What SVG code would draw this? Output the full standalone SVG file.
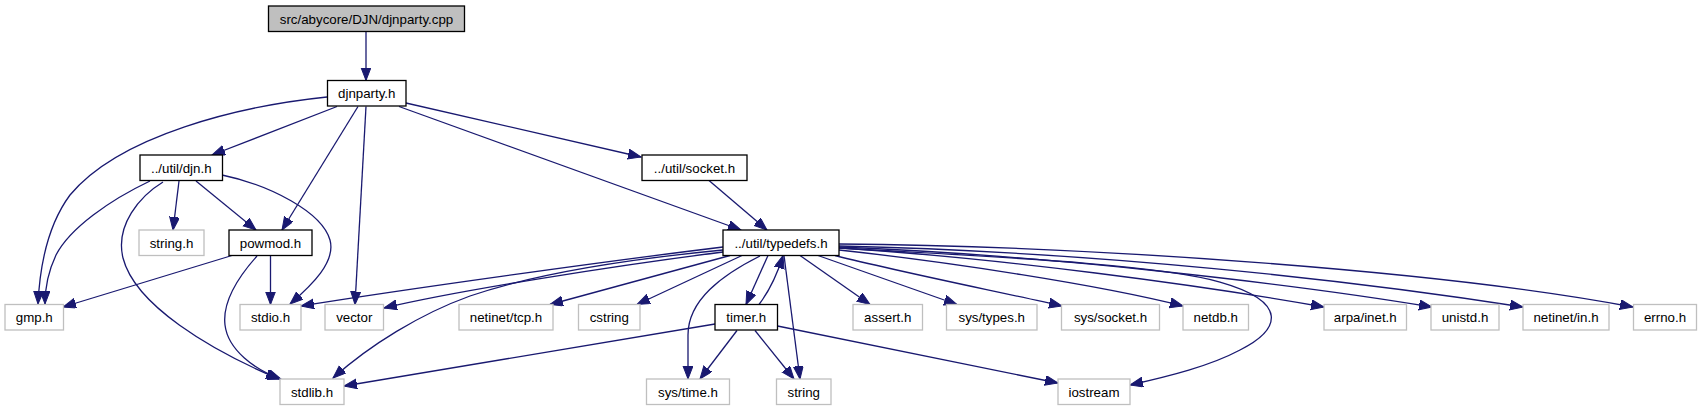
<svg xmlns="http://www.w3.org/2000/svg" width="1702" height="411" viewBox="0 0 1702 411">
<style>
.n rect{fill:#fff;stroke:#000;stroke-width:1.3}
.n.g rect{stroke:#bfbfbf}
.n.r rect{fill:#bfbfbf}
.n text{font-family:"Liberation Sans",Arial,sans-serif;font-size:13.3px;text-anchor:middle;fill:#000}
#edges path{fill:none;stroke:#191970;stroke-width:1.3;marker-end:url(#a)}
</style>
<defs>
<marker id="a" markerUnits="userSpaceOnUse" markerWidth="14" markerHeight="11" refX="13" refY="5" orient="auto">
<path d="M0,0 L13,5 L0,10 z" fill="#191970" stroke="#191970" stroke-width="1"/>
</marker>
</defs>
<rect width="1702" height="411" fill="#fff"/>
<g id="edges">
<path d="M366,32 L366,80.5"/>
<path d="M337,106.5 L212,155"/>
<path d="M327,97 C 240,106 120,135 70,195 C 50,222 40,262 38,304"/>
<path d="M150,181 C 110,200 70,228 56,255 C 48,272 45,290 45,304"/>
<path d="M163,182 C 140,196 115,225 123,258 C 135,305 210,350 279,379"/>
<path d="M179,181 L173,230"/>
<path d="M196,181 L256,230"/>
<path d="M222,175 C 270,185 322,212 330,240 C 336,262 312,285 290,304"/>
<path d="M358,106.5 L282,230"/>
<path d="M366,106.5 L355,304.5"/>
<path d="M406,103 L641,157"/>
<path d="M399,106.5 L741,230"/>
<path d="M709,180.5 L767,230"/>
<path d="M232,255.5 L63,307"/>
<path d="M270.5,255.5 L270.5,304.5"/>
<path d="M257,256 C 240,275 222,300 225,325 C 228,350 255,370 281,379"/>
<path d="M723,247 C 600,262 400,290 301,306"/>
<path d="M723,252 C 620,265 460,290 384,308"/>
<path d="M723,250 C 640,258 540,272 470,296 C 420,314 370,345 333,378"/>
<path d="M730,255.5 L550,304.5"/>
<path d="M742,255.5 L637,304.5"/>
<path d="M768,255.5 L746,304.5"/>
<path d="M759,304.5 C 770,290 778,272 783,255.5"/>
<path d="M760,256 C 722,275 688,300 688,335 L688,379"/>
<path d="M784,255.5 L800,379"/>
<path d="M839,248 C 950,255 1150,262 1220,282 C 1290,302 1280,330 1240,350 C 1210,366 1170,376 1130,385"/>
<path d="M800,255.5 L870,304.5"/>
<path d="M818,255.5 L957,304.5"/>
<path d="M835,255.5 C 900,272 1000,292 1062,306"/>
<path d="M839,250 C 950,262 1100,285 1183,306"/>
<path d="M839,248 C 1000,258 1200,285 1324,307"/>
<path d="M839,247 C 1050,255 1300,285 1432,307"/>
<path d="M839,246 C 1100,252 1350,280 1523,307"/>
<path d="M839,244 C 1100,246 1450,272 1633,307"/>
<path d="M715,324 L344,386"/>
<path d="M737,330.5 L700,379"/>
<path d="M755,330.5 L794,379"/>
<path d="M777.5,326 L1058,383"/>
</g>
<g id="root" class="n r"><rect x="268.5" y="6" width="196" height="25.5"/><text x="366.5" y="23.5">src/abycore/DJN/djnparty.cpp</text></g>
<g id="djnparty" class="n"><rect x="327.5" y="80.5" width="78.5" height="25.5"/><text x="366.75" y="98">djnparty.h</text></g>
<g id="djn" class="n"><rect x="140" y="155" width="82.5" height="25.5"/><text x="181.25" y="172.5">../util/djn.h</text></g>
<g id="socket" class="n"><rect x="642" y="155" width="105" height="25.5"/><text x="694.5" y="172.5">../util/socket.h</text></g>
<g id="stringh" class="n g"><rect x="139" y="230" width="65" height="25.5"/><text x="171.5" y="247.5">string.h</text></g>
<g id="powmod" class="n"><rect x="229" y="230" width="83" height="25.5"/><text x="270.5" y="247.5">powmod.h</text></g>
<g id="typedefs" class="n"><rect x="723" y="230" width="116" height="25.5"/><text x="781" y="247.5">../util/typedefs.h</text></g>
<g id="gmp" class="n g"><rect x="5" y="304.5" width="58.5" height="25.5"/><text x="34.25" y="322">gmp.h</text></g>
<g id="stdio" class="n g"><rect x="240" y="304.5" width="61" height="25.5"/><text x="270.5" y="322">stdio.h</text></g>
<g id="vector" class="n g"><rect x="325" y="304.5" width="58.5" height="25.5"/><text x="354.25" y="322">vector</text></g>
<g id="tcp" class="n g"><rect x="459" y="304.5" width="94" height="25.5"/><text x="506" y="322">netinet/tcp.h</text></g>
<g id="cstring" class="n g"><rect x="578.5" y="304.5" width="61.5" height="25.5"/><text x="609.25" y="322">cstring</text></g>
<g id="timer" class="n"><rect x="715" y="304.5" width="62.5" height="25.5"/><text x="746.25" y="322">timer.h</text></g>
<g id="assert" class="n g"><rect x="853" y="304.5" width="69.5" height="25.5"/><text x="887.75" y="322">assert.h</text></g>
<g id="systypes" class="n g"><rect x="946.5" y="304.5" width="90.5" height="25.5"/><text x="991.75" y="322">sys/types.h</text></g>
<g id="syssocket" class="n g"><rect x="1061.5" y="304.5" width="98" height="25.5"/><text x="1110.5" y="322">sys/socket.h</text></g>
<g id="netdb" class="n g"><rect x="1183" y="304.5" width="65.5" height="25.5"/><text x="1215.75" y="322">netdb.h</text></g>
<g id="arpa" class="n g"><rect x="1324" y="304.5" width="82.5" height="25.5"/><text x="1365.25" y="322">arpa/inet.h</text></g>
<g id="unistd" class="n g"><rect x="1431" y="304.5" width="68" height="25.5"/><text x="1465" y="322">unistd.h</text></g>
<g id="netinetin" class="n g"><rect x="1523" y="304.5" width="86" height="25.5"/><text x="1566" y="322">netinet/in.h</text></g>
<g id="errno" class="n g"><rect x="1633.5" y="304.5" width="63" height="25.5"/><text x="1665" y="322">errno.h</text></g>
<g id="stdlib" class="n g"><rect x="280" y="379" width="64" height="25.5"/><text x="312" y="396.5">stdlib.h</text></g>
<g id="systime" class="n g"><rect x="646.5" y="379" width="83" height="25.5"/><text x="688" y="396.5">sys/time.h</text></g>
<g id="string" class="n g"><rect x="776.5" y="379" width="54.5" height="25.5"/><text x="803.75" y="396.5">string</text></g>
<g id="iostream" class="n g"><rect x="1058" y="379" width="72" height="25.5"/><text x="1094" y="396.5">iostream</text></g>
</svg>
